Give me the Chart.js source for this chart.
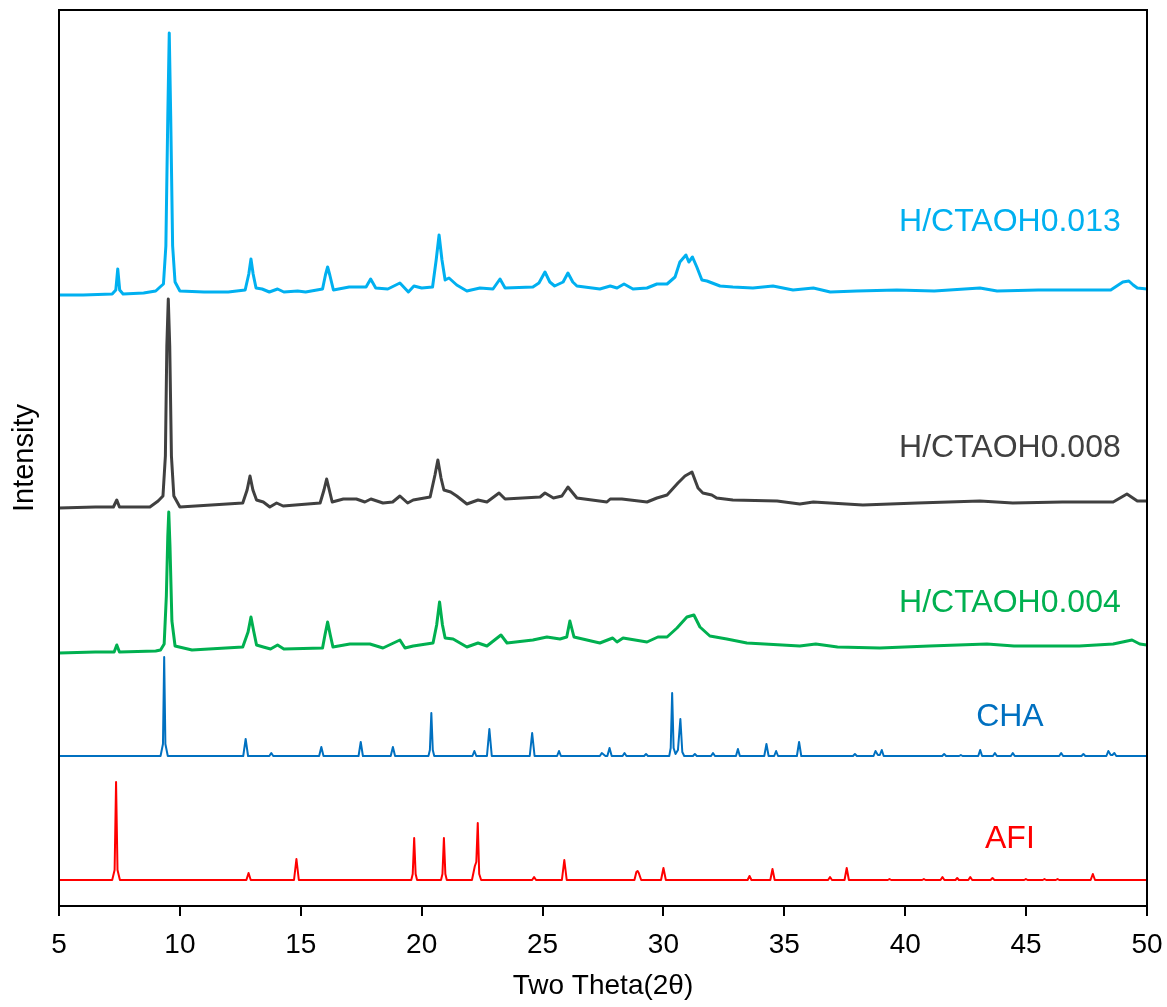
<!DOCTYPE html>
<html>
<head>
<meta charset="utf-8">
<title>XRD patterns</title>
<script src="https://cdn.jsdelivr.net/npm/chart.js@4.4.1/dist/chart.umd.min.js"></script>
<style>
  html, body { margin: 0; padding: 0; background: #fff; }
  canvas { display: block; }
</style>
</head>
<body>
<canvas id="xrd" width="1167" height="1007" style="width:1167px;height:1007px"></canvas>
<script>
// 2θ range and tick step
const thetaMin = 5;
const thetaMax = 50;
const thetaStep = 5;

// stacked intensities (arbitrary units, offsets already included)
const afiPattern = [
  [5.0, 26], [7.2, 26], [7.3, 36], [7.36, 124], [7.42, 36], [7.52, 26],
  [12.75, 26], [12.84, 33], [12.93, 26],
  [14.72, 26], [14.82, 47], [14.92, 26],
  [19.57, 26], [19.63, 32], [19.69, 68], [19.75, 32], [19.81, 26],
  [20.8, 26], [20.86, 32], [20.92, 68], [20.98, 32], [21.04, 26],
  [22.08, 26], [22.2, 40], [22.26, 44], [22.32, 83], [22.38, 32], [22.46, 26],
  [24.57, 26], [24.65, 29], [24.73, 26],
  [25.8, 26], [25.9, 46], [26.0, 26],
  [28.8, 26], [28.88, 34], [28.93, 35], [28.98, 33], [29.08, 26],
  [29.9, 26], [30.0, 38], [30.1, 26],
  [33.48, 26], [33.56, 30], [33.64, 26],
  [34.42, 26], [34.51, 37], [34.6, 26],
  [36.81, 26], [36.89, 29], [36.97, 26],
  [37.49, 26], [37.58, 38], [37.67, 26],
  [39.28, 26], [39.35, 27], [39.42, 26],
  [40.7, 26], [40.77, 27], [40.84, 26],
  [41.46, 26], [41.54, 29], [41.62, 26],
  [42.08, 26], [42.15, 28], [42.22, 26],
  [42.61, 26], [42.69, 29], [42.77, 26],
  [43.53, 26], [43.61, 28], [43.69, 26],
  [44.92, 26], [44.99, 27], [45.06, 26],
  [45.69, 26], [45.76, 27], [45.83, 26],
  [46.23, 26], [46.3, 27], [46.37, 26],
  [47.67, 26], [47.76, 32], [47.85, 26],
  [50.0, 26]
];

const chaPattern = [
  [5.0, 150], [9.2, 150], [9.3, 162], [9.35, 249], [9.4, 162], [9.5, 150],
  [12.62, 150], [12.72, 167], [12.82, 150],
  [13.7, 150], [13.78, 153], [13.86, 150],
  [15.76, 150], [15.85, 159], [15.94, 150],
  [17.39, 150], [17.48, 164], [17.57, 150],
  [18.72, 150], [18.81, 159], [18.9, 150],
  [20.28, 150], [20.34, 156], [20.4, 193], [20.46, 156], [20.52, 150],
  [22.1, 150], [22.18, 155], [22.26, 150],
  [22.7, 150], [22.8, 177], [22.9, 150],
  [24.47, 150], [24.57, 173], [24.67, 150],
  [25.6, 150], [25.68, 155], [25.76, 150],
  [27.37, 150], [27.45, 153], [27.6, 150],
  [27.68, 150], [27.77, 158], [27.86, 150],
  [28.31, 150], [28.39, 153], [28.47, 150],
  [29.2, 150], [29.28, 152], [29.36, 150],
  [30.24, 150], [30.3, 158], [30.36, 213], [30.42, 158], [30.5, 152],
  [30.6, 156], [30.7, 187], [30.78, 154], [30.86, 150],
  [31.22, 150], [31.3, 152], [31.38, 150],
  [31.97, 150], [32.05, 153], [32.13, 150],
  [33.0, 150], [33.08, 157], [33.16, 150],
  [34.17, 150], [34.26, 162], [34.35, 150],
  [34.58, 150], [34.66, 155], [34.74, 150],
  [35.52, 150], [35.61, 164], [35.7, 150],
  [37.84, 150], [37.92, 152], [38.0, 150],
  [38.69, 150], [38.77, 155], [38.87, 151], [38.95, 151], [39.03, 156], [39.11, 150],
  [41.53, 150], [41.61, 152], [41.69, 150],
  [42.23, 150], [42.3, 151], [42.37, 150],
  [43.02, 150], [43.1, 156], [43.18, 150],
  [43.63, 150], [43.71, 153], [43.79, 150],
  [44.37, 150], [44.45, 153], [44.53, 150],
  [46.37, 150], [46.45, 153], [46.53, 150],
  [47.29, 150], [47.37, 152], [47.45, 150],
  [48.32, 150], [48.4, 155], [48.5, 151], [48.57, 151], [48.65, 153], [48.73, 150],
  [50.0, 150]
];

const ctaoh004 = [
  [5.0, 253], [6.5, 254], [7.28, 254], [7.39, 261], [7.5, 254], [9.0, 255],
  [9.2, 256], [9.35, 262], [9.44, 310], [9.5, 370], [9.54, 394], [9.59, 360],
  [9.67, 285], [9.8, 260], [10.5, 256], [12.6, 259], [12.82, 274], [12.94, 289],
  [13.06, 274], [13.17, 261], [13.45, 259], [13.75, 257], [14.04, 261], [14.3, 257],
  [15.9, 258], [16.0, 271], [16.11, 284], [16.22, 271], [16.33, 259], [17.03, 262],
  [17.86, 262], [18.4, 258], [19.1, 266], [19.31, 258], [19.65, 260], [20.47, 263],
  [20.62, 281], [20.74, 304], [20.86, 281], [20.97, 268], [21.3, 267], [21.87, 259],
  [22.33, 263], [22.7, 260], [23.28, 271], [23.53, 263], [24.6, 266], [25.18, 269],
  [25.72, 267], [26.0, 269], [26.13, 285], [26.3, 269], [27.37, 263], [27.9, 268],
  [28.08, 264], [28.33, 268], [29.32, 264], [29.77, 269], [30.15, 269], [30.56, 278],
  [30.97, 289], [31.26, 291], [31.51, 279], [31.92, 270], [32.62, 267], [33.45, 263],
  [35.64, 260], [36.3, 262], [37.2, 259], [38.95, 258], [41.0, 260], [43.38, 262],
  [44.5, 260], [47.2, 260], [48.6, 262], [49.38, 266], [49.7, 262], [50.0, 261]
];

const ctaoh008 = [
  [5.0, 398], [6.5, 399], [7.25, 399], [7.39, 406], [7.5, 399], [8.76, 399],
  [9.1, 405], [9.3, 410], [9.4, 450], [9.46, 560], [9.52, 607], [9.58, 560],
  [9.65, 450], [9.75, 410], [10.0, 399], [12.6, 403], [12.78, 416], [12.9, 430],
  [13.02, 416], [13.17, 406], [13.45, 404], [13.72, 399], [14.0, 403], [14.27, 400],
  [15.8, 403], [15.96, 416], [16.07, 427], [16.18, 416], [16.3, 404], [16.76, 407],
  [17.3, 407], [17.65, 404], [17.9, 407], [18.4, 403], [18.8, 404], [19.1, 410],
  [19.42, 403], [19.65, 406], [20.35, 409], [20.55, 431], [20.67, 446], [20.8, 428],
  [20.92, 416], [21.2, 414], [21.45, 410], [21.87, 402], [22.33, 406], [22.7, 404],
  [23.2, 413], [23.45, 407], [24.9, 409], [25.1, 413], [25.45, 408], [25.8, 410],
  [26.05, 419], [26.42, 408], [27.66, 404], [27.8, 407], [28.28, 407], [29.32, 404],
  [29.73, 408], [30.15, 411], [30.6, 423], [30.89, 430], [31.18, 434], [31.43, 418],
  [31.63, 413], [32.0, 411], [32.2, 408], [32.87, 406], [34.7, 405], [35.64, 402],
  [36.2, 404], [38.25, 401], [40.5, 403], [43.09, 405], [44.45, 403], [46.5, 404],
  [48.6, 404], [49.17, 412], [49.6, 405], [50.0, 405]
];

const ctaoh013 = [
  [5.0, 611], [6.0, 611], [7.2, 612], [7.35, 616], [7.43, 637], [7.51, 616],
  [7.65, 612], [8.5, 613], [9.0, 615], [9.18, 619], [9.32, 622], [9.42, 660],
  [9.5, 790], [9.56, 873], [9.62, 790], [9.7, 660], [9.8, 624], [10.0, 615],
  [11.0, 614], [12.0, 614], [12.7, 616], [12.85, 632], [12.94, 647], [13.03, 632],
  [13.15, 618], [13.4, 617], [13.7, 614], [14.04, 617], [14.3, 614], [14.87, 615],
  [15.2, 614], [15.9, 617], [16.02, 631], [16.11, 639], [16.2, 631], [16.35, 616],
  [17.0, 619], [17.4, 619], [17.7, 619], [17.89, 627], [18.1, 618], [18.6, 617],
  [19.1, 623], [19.45, 614], [19.68, 620], [20.0, 618], [20.45, 619], [20.6, 646],
  [20.72, 671], [20.84, 646], [20.97, 626], [21.13, 628], [21.45, 621], [21.87, 615],
  [22.41, 618], [22.95, 617], [23.24, 627], [23.45, 618], [24.6, 619], [24.85, 623],
  [25.1, 634], [25.3, 624], [25.5, 620], [25.85, 624], [26.05, 633], [26.25, 624],
  [26.42, 620], [27.37, 617], [27.8, 620], [28.08, 618], [28.37, 622], [28.74, 617],
  [29.32, 618], [29.73, 622], [30.15, 622], [30.48, 629], [30.68, 644], [30.93, 651],
  [31.05, 644], [31.2, 649], [31.38, 639], [31.59, 626], [31.8, 625], [32.34, 620],
  [32.87, 619], [33.7, 618], [34.53, 620], [35.36, 616], [36.2, 618], [36.9, 614],
  [38.0, 615], [39.65, 616], [41.2, 615], [43.09, 618], [43.8, 615], [45.5, 616],
  [47.2, 616], [48.5, 616], [49.0, 624], [49.25, 625], [49.43, 621], [49.6, 618],
  [50.0, 617]
];

const sampleNames = ['AFI', 'CHA', 'H/CTAOH0.004', 'H/CTAOH0.008', 'H/CTAOH0.013'];
const patterns = [afiPattern, chaPattern, ctaoh004, ctaoh008, ctaoh013];
const colors = ['#FF0000', '#0070C0', '#00B050', '#404040', '#00B0F0'];
const widths = [2, 2, 3, 3, 3];
// where each name sits: [2θ, height]
const namePos = [[44.33, 67], [44.33, 189], [44.33, 303], [44.33, 458], [44.33, 684]];

const fontFamily = '"Liberation Sans", Arial, Helvetica, sans-serif';

// names written next to each trace, in the trace colour
const traceNames = {
  id: 'traceNames',
  afterDatasetsDraw(chart) {
    const ctx = chart.ctx;
    const xs = chart.scales.x, ys = chart.scales.y;
    ctx.save();
    ctx.font = '32px ' + fontFamily;
    ctx.textAlign = 'center';
    ctx.textBaseline = 'middle';
    chart.data.datasets.forEach((ds, i) => {
      ctx.fillStyle = ds.borderColor;
      ctx.fillText(ds.label, xs.getPixelForValue(namePos[i][0]), ys.getPixelForValue(namePos[i][1]));
    });
    ctx.restore();
  }
};

// closed box round the plot
const frame = {
  id: 'frame',
  afterDraw(chart) {
    const a = chart.chartArea;
    const ctx = chart.ctx;
    ctx.save();
    ctx.strokeStyle = '#000';
    ctx.lineWidth = 2;
    ctx.strokeRect(a.left, a.top, a.right - a.left, a.bottom - a.top);
    ctx.restore();
  }
};

new Chart(document.getElementById('xrd'), {
  type: 'line',
  data: {
    datasets: patterns.map((p, i) => ({
      label: sampleNames[i],
      data: p.map(([x, y]) => ({ x, y })),
      borderColor: colors[i],
      borderWidth: widths[i],
      borderJoinStyle: 'round',
      pointRadius: 0,
      tension: 0,
      fill: false
    }))
  },
  options: {
    responsive: false,
    animation: false,
    layout: { padding: { top: 10, right: 20, bottom: 0, left: 0 } },
    plugins: { legend: { display: false }, tooltip: { enabled: false } },
    scales: {
      x: {
        type: 'linear',
        min: thetaMin,
        max: thetaMax,
        ticks: { stepSize: thetaStep, color: '#000', font: { family: fontFamily, size: 28 }, padding: 12, maxRotation: 0 },
        grid: { drawOnChartArea: false, drawTicks: true, tickLength: 10, color: '#000', lineWidth: 2 },
        border: { display: true, color: '#000', width: 2 },
        title: { display: true, text: 'Two Theta(2θ)', color: '#000', font: { family: fontFamily, size: 28 }, padding: { top: 0, bottom: 4 } },
        afterFit(scale) {
          scale.height = 101;
          // the end labels fit inside the canvas margins already
          scale.paddingLeft = 0;
          scale.paddingRight = 0;
        }
      },
      y: {
        type: 'linear',
        min: 0,
        max: 896,
        ticks: { display: false },
        grid: { display: false },
        border: { display: true, color: '#000', width: 2 },
        title: { display: true, text: 'Intensity', color: '#000', font: { family: fontFamily, size: 29 }, padding: { top: 8, bottom: 0 } },
        afterFit(scale) {
          scale.width = 59;
          scale.paddingTop = 0;
          scale.paddingBottom = 0;
        }
      }
    }
  },
  plugins: [traceNames, frame]
});
</script>
</body>
</html>
